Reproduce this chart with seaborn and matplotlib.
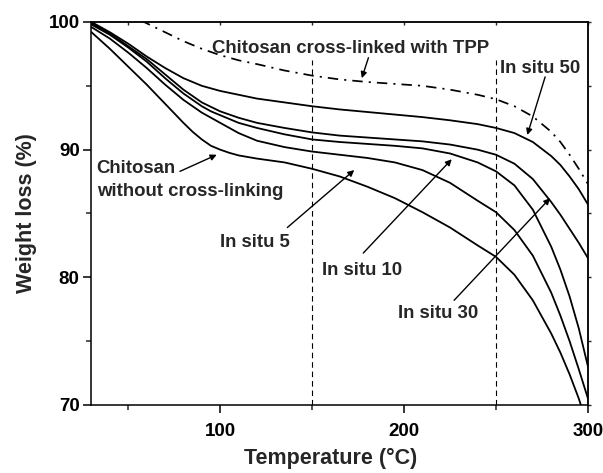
import matplotlib
matplotlib.use("Agg")
import matplotlib.pyplot as plt
import numpy as np
import pandas as pd
import seaborn as sns

# ---------------- data ----------------
temp = [30, 40, 50, 60, 70, 80, 85, 90, 95, 100, 105, 110, 120, 135, 150, 165, 180, 195,
        210, 225, 240, 250, 260, 270, 280, 285, 290, 295, 300]

loss_insitu50 = [100.0, 99.2, 98.3, 97.3, 96.4, 95.6, 95.3, 95.0, 94.8, 94.6, 94.45, 94.3,
                 94.0, 93.7, 93.4, 93.15, 92.95, 92.75, 92.55, 92.3, 92.0, 91.7, 91.3,
                 90.6, 89.5, 88.8, 87.9, 86.9, 85.7]
loss_insitu30 = [99.9, 99.1, 98.1, 97.1, 95.9, 94.7, 94.2, 93.7, 93.35, 93.0, 92.75, 92.5,
                 92.1, 91.7, 91.35, 91.1, 90.95, 90.8, 90.65, 90.4, 90.0, 89.6, 88.9,
                 87.7, 85.9, 84.9, 83.8, 82.7, 81.5]
loss_insitu10 = [99.8, 99.0, 98.0, 96.9, 95.6, 94.4, 93.9, 93.4, 93.0, 92.7, 92.4, 92.1,
                 91.7, 91.2, 90.8, 90.6, 90.45, 90.3, 90.1, 89.7, 89.0, 88.3, 87.2,
                 85.3, 82.4, 80.6, 78.5, 76.0, 73.0]
loss_insitu5 = [99.6, 98.7, 97.6, 96.4, 95.1, 93.9, 93.4, 92.9, 92.5, 92.1, 91.7, 91.3,
                90.7, 90.2, 89.85, 89.6, 89.35, 89.0, 88.4, 87.4, 86.0, 85.1, 83.7,
                81.7, 78.8, 77.0, 75.0, 72.8, 70.5]
loss_plain = [99.2, 97.9, 96.5, 95.1, 93.6, 92.1, 91.4, 90.8, 90.3, 90.0, 89.75, 89.55,
              89.3, 89.0, 88.5, 87.9, 87.1, 86.2, 85.1, 83.9, 82.5, 81.6, 80.2,
              78.2, 75.6, 74.1, 72.4, 70.5, 68.3]
loss_tpp = [102.0, 101.2, 100.6, 99.9, 99.2, 98.5, 98.2, 97.9, 97.65, 97.4, 97.2, 97.0,
            96.7, 96.2, 95.8, 95.5, 95.3, 95.15, 95.0, 94.7, 94.3, 93.95, 93.4,
            92.6, 91.4, 90.6, 89.6, 88.5, 87.3]

marker_temps = [150, 250]

x_major = [100, 200, 300]
x_minor = [50, 150, 250]
y_major = [70, 80, 90, 100]
y_minor = [75, 85, 95]

# ---------------- styling ----------------
sns.set_theme(style="ticks")
plt.rcParams["font.family"] = ["Liberation Sans", "DejaVu Sans"]
plt.rcParams["font.weight"] = "bold"
plt.rcParams["axes.labelweight"] = "bold"

fig = plt.figure(figsize=(6.03, 4.73), dpi=100)
ax = fig.add_axes([0.1517, 0.1438, 0.8234, 0.8097])

solid = {"In situ 50": loss_insitu50, "In situ 30": loss_insitu30,
         "In situ 10": loss_insitu10, "In situ 5": loss_insitu5,
         "Chitosan": loss_plain}
for name, vals in solid.items():
    df = pd.DataFrame({"temp": temp, "loss": vals})
    sns.lineplot(data=df, x="temp", y="loss", ax=ax, color="black",
                 linewidth=1.3, estimator=None, sort=False)

df_tpp = pd.DataFrame({"temp": temp, "loss": loss_tpp})
sns.lineplot(data=df_tpp, x="temp", y="loss", ax=ax, color="black",
             linewidth=1.25, estimator=None, sort=False,
             linestyle=(0, (6, 3.5, 1.2, 3.5)))

ax.vlines(marker_temps, 70, 97, colors="black", linewidth=0.8,
          linestyles=[(0, (5, 3.5))])

ax.set_xlim(30, 300)
ax.set_ylim(70, 100)
ax.set_xticks(x_major)
ax.set_xticks(x_minor, minor=True)
ax.set_yticks(y_major)
ax.set_yticks(y_minor, minor=True)

for sp in ax.spines.values():
    sp.set_visible(True)
    sp.set_linewidth(1.1)
    sp.set_color("black")

ax.tick_params(axis="both", which="major", direction="out", length=6,
               width=1.1, labelsize=13.5, colors="black")
ax.tick_params(axis="x", which="major", pad=7)
ax.tick_params(axis="y", which="major", pad=2.5)
ax.tick_params(axis="both", which="minor", direction="out", length=3.5, width=1.1)

secx = ax.secondary_xaxis("top")
secx.set_xticks(x_major + x_minor)
secx.tick_params(direction="in", length=2.5, width=1.0, labeltop=False)
secx.spines["top"].set_linewidth(1.1)
secy = ax.secondary_yaxis("right")
secy.set_yticks(y_major + y_minor)
secy.tick_params(direction="out", length=2.5, width=1.0, labelright=False)
secy.spines["right"].set_linewidth(1.1)

ax.set_xlabel("Temperature (°C)", fontsize=15.5, fontweight="bold")
ax.set_ylabel("Weight loss (%)", fontsize=15.5, fontweight="bold")
ax.xaxis.set_label_coords(0.482, -0.112)
ax.yaxis.set_label_coords(-0.11, 0.50)

# ---------------- annotations ----------------
fs = 13.4
arrow = dict(arrowstyle="-|>", color="black", lw=1.0, mutation_scale=9,
             shrinkA=0, shrinkB=0)

ax.text(95.5, 97.6, "Chitosan cross-linked with TPP", fontsize=fs,
        fontweight="bold", ha="left", va="baseline")
ax.annotate("", xy=(177.0, 95.6), xytext=(180.6, 97.2), arrowprops=arrow)

ax.text(252.2, 96.0, "In situ 50", fontsize=fs, fontweight="bold",
        ha="left", va="baseline")
ax.annotate("", xy=(267.0, 91.15), xytext=(276.7, 95.7), arrowprops=arrow)

ax.text(32.8, 88.2, "Chitosan", fontsize=fs, fontweight="bold",
        ha="left", va="baseline")
ax.text(32.8, 86.4, "without cross-linking", fontsize=fs, fontweight="bold",
        ha="left", va="baseline")
ax.annotate("", xy=(98.1, 89.6), xytext=(78.1, 88.3), arrowprops=arrow)

ax.text(100.0, 82.4, "In situ 5", fontsize=fs, fontweight="bold",
        ha="left", va="baseline")
ax.annotate("", xy=(172.9, 88.4), xytext=(136.5, 83.9), arrowprops=arrow)

ax.text(155.4, 80.2, "In situ 10", fontsize=fs, fontweight="bold",
        ha="left", va="baseline")
ax.annotate("", xy=(225.9, 89.25), xytext=(177.8, 81.9), arrowprops=arrow)

ax.text(196.9, 76.8, "In situ 30", fontsize=fs, fontweight="bold",
        ha="left", va="baseline")
ax.annotate("", xy=(279.4, 86.2), xytext=(227.2, 78.2), arrowprops=arrow)

fig.savefig("out.png", dpi=100)
